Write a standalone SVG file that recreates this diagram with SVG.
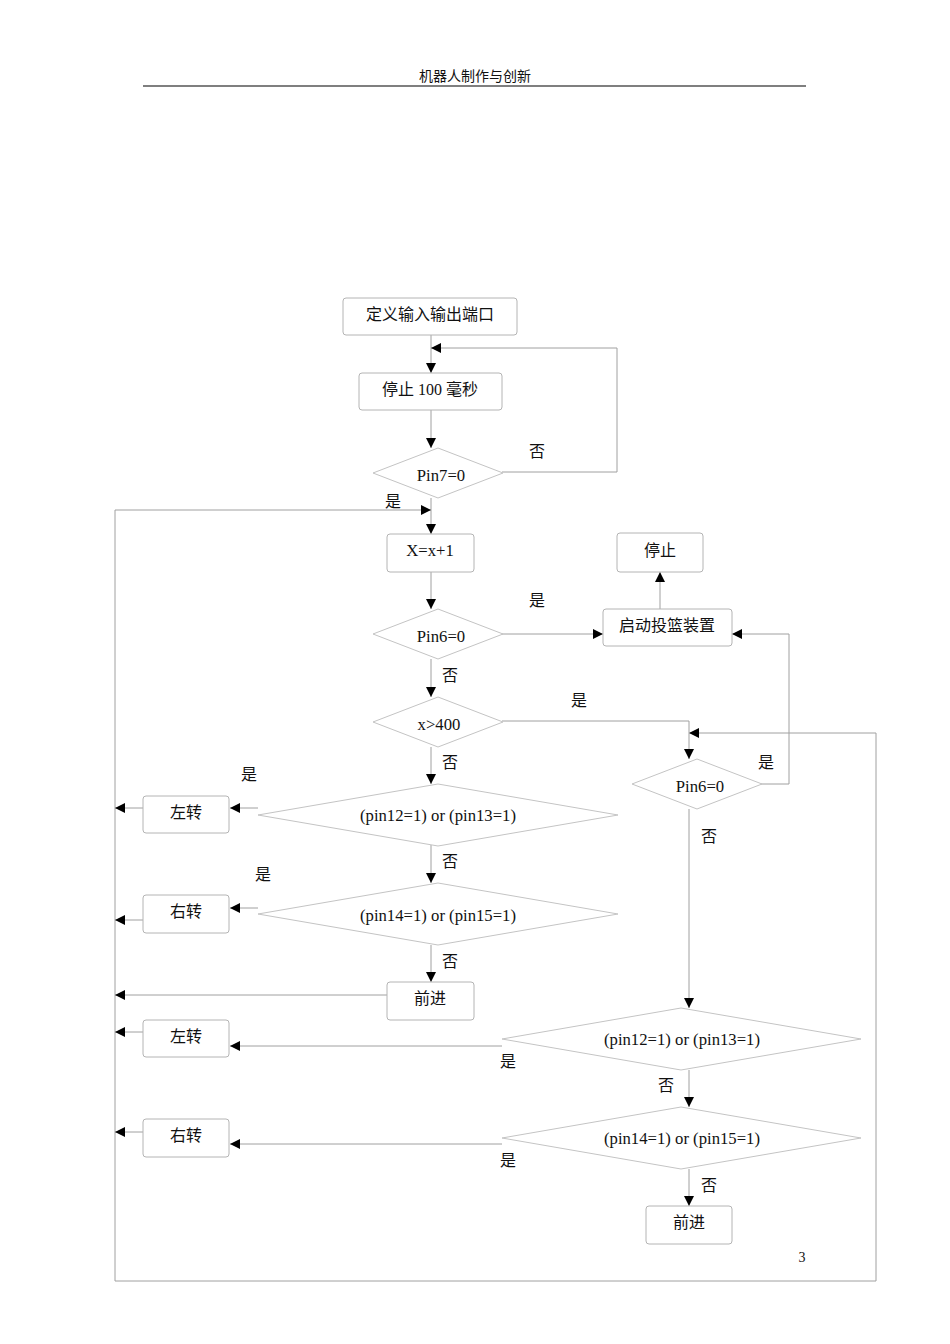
<svg xmlns="http://www.w3.org/2000/svg" width="950" height="1344" viewBox="0 0 950 1344">
<defs>
<style>
.b{fill:#fff;stroke:#b4b4b4;stroke-width:1}
.d{fill:#fff;stroke:#c4c4c4;stroke-width:1}
.c{fill:none;stroke:#a0a0a0;stroke-width:1}
text{font-family:"Liberation Serif","Noto Sans CJK SC",serif;font-size:16px;fill:#111}
.m{text-anchor:middle}
.l{font-size:16.7px}
</style>
<marker id="a" viewBox="0 0 10 10" refX="10" refY="5" markerWidth="10" markerHeight="10" markerUnits="userSpaceOnUse" orient="auto"><path d="M0,0L10,5L0,10z" fill="#000"/></marker>
</defs>
<g id="header">
<text x="475" y="81" class="m" style="font-size:14px">机器人制作与创新</text>
<line x1="143" y1="86" x2="806" y2="86" stroke="#000" stroke-width="1.2"/>
</g>
<g id="connectors">
<path class="c" d="M431,335V373" marker-end="url(#a)"/>
<path class="c" d="M502,472H617V348H431" marker-end="url(#a)"/>
<path class="c" d="M431,410V448" marker-end="url(#a)"/>
<path class="c" d="M431,498V534" marker-end="url(#a)"/>
<path class="c" d="M115,1281V510H431" marker-end="url(#a)"/>
<path class="c" d="M115,1281H876V733H689" marker-end="url(#a)"/>
<path class="c" d="M431,572V609" marker-end="url(#a)"/>
<path class="c" d="M502,634H603" marker-end="url(#a)"/>
<path class="c" d="M660,609V572" marker-end="url(#a)"/>
<path class="c" d="M431,659V697" marker-end="url(#a)"/>
<path class="c" d="M502,721H689V759" marker-end="url(#a)"/>
<path class="c" d="M761,784H789V634H732" marker-end="url(#a)"/>
<path class="c" d="M689,809V1008" marker-end="url(#a)"/>
<path class="c" d="M431,747V784" marker-end="url(#a)"/>
<path class="c" d="M258,808H230" marker-end="url(#a)"/>
<path class="c" d="M143,808H115" marker-end="url(#a)"/>
<path class="c" d="M431,845V883" marker-end="url(#a)"/>
<path class="c" d="M258,908H230" marker-end="url(#a)"/>
<path class="c" d="M143,920H115" marker-end="url(#a)"/>
<path class="c" d="M431,945V982" marker-end="url(#a)"/>
<path class="c" d="M387,995H115" marker-end="url(#a)"/>
<path class="c" d="M502,1046H230" marker-end="url(#a)"/>
<path class="c" d="M143,1032H115" marker-end="url(#a)"/>
<path class="c" d="M689,1070V1107" marker-end="url(#a)"/>
<path class="c" d="M502,1144H230" marker-end="url(#a)"/>
<path class="c" d="M143,1132H115" marker-end="url(#a)"/>
<path class="c" d="M689,1169V1206" marker-end="url(#a)"/>
</g>
<g id="labels">
<text x="537" y="457" class="m">否</text>
<text x="393" y="507" class="m">是</text>
<text x="537" y="606" class="m">是</text>
<text x="450" y="681" class="m">否</text>
<text x="579" y="706" class="m">是</text>
<text x="766" y="768" class="m">是</text>
<text x="450" y="768" class="m">否</text>
<text x="709" y="842" class="m">否</text>
<text x="249" y="780" class="m">是</text>
<text x="450" y="867" class="m">否</text>
<text x="263" y="880" class="m">是</text>
<text x="450" y="967" class="m">否</text>
<text x="508" y="1067" class="m">是</text>
<text x="666" y="1091" class="m">否</text>
<text x="508" y="1166" class="m">是</text>
<text x="709" y="1191" class="m">否</text>
<text x="802" y="1262" class="m" style="font-size:14px">3</text>
</g>
<g id="n1"><rect class="b" x="343" y="298" width="174" height="37" rx="3"/><text x="430" y="320" class="m">定义输入输出端口</text></g>
<g id="n2"><rect class="b" x="359" y="373" width="143" height="37" rx="3"/><text x="430" y="395" class="m">停止 100 毫秒</text></g>
<g id="n3"><path class="d" d="M373,473L438,448L503,473L438,498z"/><text x="441" y="481" class="m l">Pin7=0</text></g>
<g id="n4"><rect class="b" x="387" y="534" width="87" height="38" rx="3"/><text x="430" y="556" class="m l">X=x+1</text></g>
<g id="n5"><path class="d" d="M373,634L438,609L503,634L438,659z"/><text x="441" y="642" class="m l">Pin6=0</text></g>
<g id="n6"><rect class="b" x="617" y="533" width="86" height="39" rx="3"/><text x="660" y="556" class="m">停止</text></g>
<g id="n7"><rect class="b" x="603" y="609" width="129" height="37" rx="3"/><text x="667" y="631" class="m">启动投篮装置</text></g>
<g id="n8"><path class="d" d="M373,722L438,697L503,722L438,747z"/><text x="439" y="730" class="m l">x&gt;400</text></g>
<g id="n9"><path class="d" d="M632,784L697,759L762,784L697,809z"/><text x="700" y="792" class="m l">Pin6=0</text></g>
<g id="n10"><path class="d" d="M258,815L438,784L618,815L438,846z"/><text x="438" y="821" class="m l">(pin12=1) or (pin13=1)</text></g>
<g id="n11"><rect class="b" x="143" y="796" width="86" height="37" rx="3"/><text x="186" y="818" class="m">左转</text></g>
<g id="n12"><path class="d" d="M258,914L438,883L618,914L438,945z"/><text x="438" y="921" class="m l">(pin14=1) or (pin15=1)</text></g>
<g id="n13"><rect class="b" x="143" y="895" width="86" height="38" rx="3"/><text x="186" y="917" class="m">右转</text></g>
<g id="n14"><rect class="b" x="387" y="982" width="87" height="38" rx="3"/><text x="430" y="1004" class="m">前进</text></g>
<g id="n15"><path class="d" d="M502,1039L681,1008L861,1039L681,1070z"/><text x="682" y="1045" class="m l">(pin12=1) or (pin13=1)</text></g>
<g id="n16"><rect class="b" x="143" y="1020" width="86" height="37" rx="3"/><text x="186" y="1042" class="m">左转</text></g>
<g id="n17"><path class="d" d="M502,1138L681,1107L861,1138L681,1169z"/><text x="682" y="1144" class="m l">(pin14=1) or (pin15=1)</text></g>
<g id="n18"><rect class="b" x="143" y="1119" width="86" height="38" rx="3"/><text x="186" y="1141" class="m">右转</text></g>
<g id="n19"><rect class="b" x="646" y="1206" width="86" height="38" rx="3"/><text x="689" y="1228" class="m">前进</text></g>
</svg>
